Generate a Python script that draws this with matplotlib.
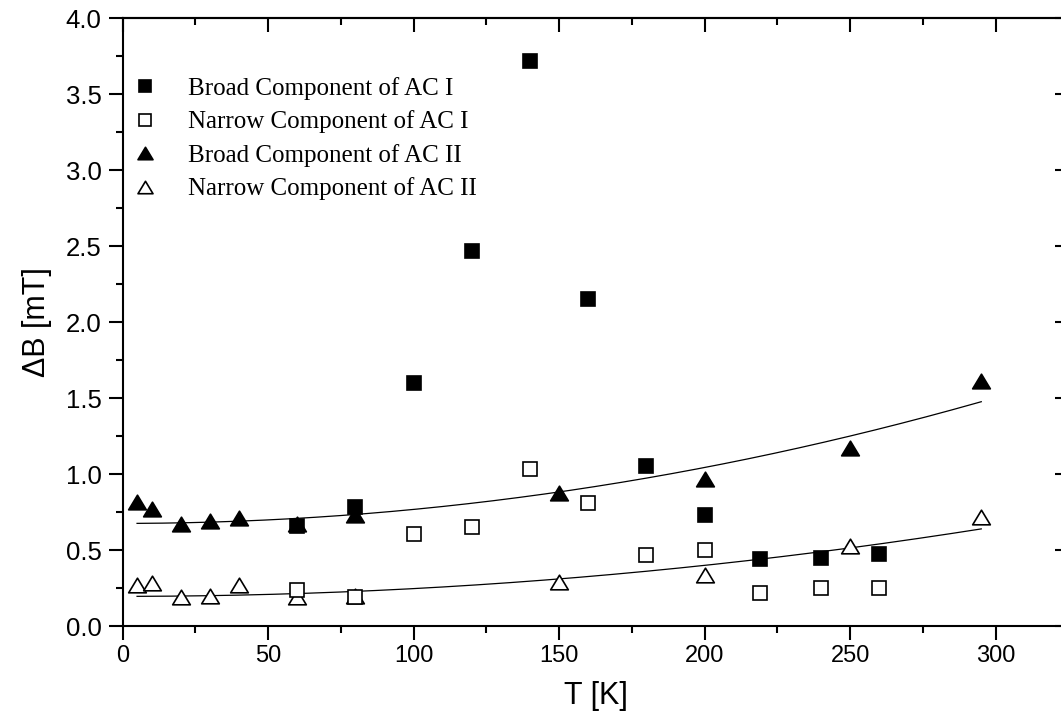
import matplotlib
matplotlib.use("Agg")
import matplotlib.pyplot as plt
from matplotlib.ticker import MultipleLocator, FormatStrFormatter
from matplotlib.path import Path
import numpy as np

# ---- data ----
T_broad_I = [60, 80, 100, 120, 140, 160, 180, 200, 219, 240, 260]
B_broad_I = [0.66, 0.78, 1.60, 2.47, 3.72, 2.15, 1.05, 0.73, 0.44, 0.45, 0.475]

T_narrow_I = [60, 80, 100, 120, 140, 160, 180, 200, 219, 240, 260]
B_narrow_I = [0.24, 0.19, 0.605, 0.65, 1.03, 0.81, 0.47, 0.50, 0.215, 0.25, 0.25]

T_broad_II = [5, 10, 20, 30, 40, 60, 80, 150, 200, 250, 295]
B_broad_II = [0.815, 0.77, 0.67, 0.69, 0.71, 0.67, 0.73, 0.873, 0.967, 1.17, 1.61]

T_narrow_II = [5, 10, 20, 30, 40, 60, 80, 150, 200, 250, 295]
B_narrow_II = [0.27, 0.28, 0.19, 0.20, 0.27, 0.19, 0.20, 0.29, 0.335, 0.526, 0.72]

# fit curves  B = a + b*T^2 (parameters)
fit_T_range = (5, 295)
fit_broad_II = (0.675, 9.2e-6)
fit_narrow_II = (0.195, 5.1e-6)

labels = ["Broad Component of AC I", "Narrow Component of AC I",
          "Broad Component of AC II", "Narrow Component of AC II"]

W, H = 1061, 722
fig = plt.figure(figsize=(W / 100, H / 100), dpi=100)
ax_left, ax_right = 122.5, 1068.6
ax_top, ax_bot = 18, 626
ax = fig.add_axes([ax_left / W, 1 - ax_bot / H, (ax_right - ax_left) / W, (ax_bot - ax_top) / H])

sans = ["Liberation Sans", "DejaVu Sans"]
serif = ["Liberation Serif", "DejaVu Serif"]

tri = Path([(0, 0.83), (-1, -0.83), (1, -0.83), (0, 0.83)],
           [Path.MOVETO, Path.LINETO, Path.LINETO, Path.CLOSEPOLY])
sq_ms = 10
tri_ms = 12.7
mew = 1.2

Tfit = np.linspace(fit_T_range[0], fit_T_range[1], 200)
ax.plot(Tfit, fit_broad_II[0] + fit_broad_II[1] * Tfit ** 2, color="black", lw=0.9, zorder=2)
ax.plot(Tfit, fit_narrow_II[0] + fit_narrow_II[1] * Tfit ** 2, color="black", lw=0.9, zorder=2)

h1, = ax.plot(T_broad_II, B_broad_II, linestyle="none", marker=tri, ms=tri_ms,
              mfc="black", mec="black", mew=mew, zorder=3, label=labels[2])
h2, = ax.plot(T_narrow_II, B_narrow_II, linestyle="none", marker=tri, ms=tri_ms,
              mfc="white", mec="black", mew=mew, zorder=3, label=labels[3])
h3, = ax.plot(T_broad_I, B_broad_I, linestyle="none", marker="s", ms=sq_ms,
              mfc="black", mec="black", mew=mew, zorder=4, label=labels[0])
h4, = ax.plot(T_narrow_I, B_narrow_I, linestyle="none", marker="s", ms=sq_ms,
              mfc="white", mec="black", mew=mew, zorder=4, label=labels[1])

ax.set_xlim(0, 325)
ax.set_ylim(0, 4.0)

ax.xaxis.set_major_locator(MultipleLocator(50))
ax.xaxis.set_minor_locator(MultipleLocator(25))
ax.yaxis.set_major_locator(MultipleLocator(0.5))
ax.yaxis.set_minor_locator(MultipleLocator(0.25))
ax.yaxis.set_major_formatter(FormatStrFormatter("%.1f"))

ax.tick_params(which="major", direction="out", length=10, width=1.5, pad=4)
ax.tick_params(which="minor", direction="out", length=5, width=1.5)
ax.tick_params(axis="x", labelsize=17)
ax.tick_params(axis="y", labelsize=18.5, pad=5)
for lab in ax.get_xticklabels() + ax.get_yticklabels():
    lab.set_family(sans)

for sp in ax.spines.values():
    sp.set_linewidth(1.5)

# top and right ticks pointing inward
secx = ax.secondary_xaxis("top")
secx.xaxis.set_major_locator(MultipleLocator(50))
secx.xaxis.set_minor_locator(MultipleLocator(25))
secx.tick_params(which="major", direction="in", length=10, width=1.5, labeltop=False)
secx.tick_params(which="minor", direction="in", length=5, width=1.5)
secx.spines["top"].set_linewidth(1.5)

secy = ax.secondary_yaxis("right")
secy.yaxis.set_major_locator(MultipleLocator(0.5))
secy.yaxis.set_minor_locator(MultipleLocator(0.25))
secy.tick_params(which="major", direction="in", length=10, width=1.5, labelright=False)
secy.tick_params(which="minor", direction="in", length=5, width=1.5)
secy.spines["right"].set_linewidth(1.5)

ax.set_xlabel("T [K]", fontsize=22, family=sans, labelpad=10)
ax.set_ylabel("ΔB [mT]", fontsize=22, family=sans, labelpad=10)

leg_fs = 18
leg = ax.legend(handles=[h3, h4, h1, h2], loc="upper left",
                bbox_to_anchor=(132.5 / W, 1 - 77 / H), bbox_transform=fig.transFigure,
                frameon=False, prop={"family": serif, "size": leg_fs}, numpoints=1,
                handlelength=1.0, handletextpad=1.2, labelspacing=0.42,
                borderpad=0, borderaxespad=0, markerscale=0.85)

fig.savefig("out.png", dpi=100)
